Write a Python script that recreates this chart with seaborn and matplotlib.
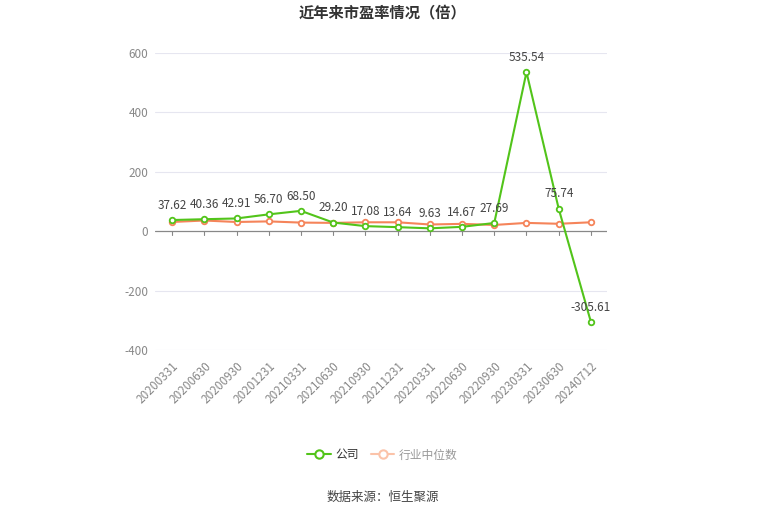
import matplotlib
matplotlib.use("Agg")
import matplotlib.pyplot as plt
import seaborn as sns
import pandas as pd
from matplotlib.lines import Line2D

dates = ["20200331", "20200630", "20200930", "20201231", "20210331", "20210630",
         "20210930", "20211231", "20220331", "20220630", "20220930", "20230331",
         "20230630", "20240712"]
company = [37.62, 40.36, 42.91, 56.70, 68.50, 29.20, 17.08, 13.64, 9.63, 14.67,
           27.69, 535.54, 75.74, -305.61]
industry = [31, 36, 31, 33, 29, 28, 30, 30, 22.6, 24.7, 21, 28, 25, 30]

green = "#52c41a"
orange = "#f5845a"

sns.set_theme(style="white")
plt.rcParams["font.family"] = ["Noto Sans CJK SC", "DejaVu Sans"]

df = pd.DataFrame({"x": range(len(dates)), "company": company, "industry": industry})

fig = plt.figure(figsize=(7.65, 5.17), dpi=100)
ax = fig.add_axes([0.2026, 0.323, 0.5909, 0.5745])

sns.lineplot(data=df, x="x", y="company", ax=ax, color=green, lw=1.5,
             marker="o", markersize=4, markerfacecolor="white",
             markeredgecolor=green, markeredgewidth=1.3, zorder=3)
sns.lineplot(data=df, x="x", y="industry", ax=ax, color=orange, lw=1.5,
             marker="o", markersize=4, markerfacecolor="white",
             markeredgecolor=orange, markeredgewidth=1.3, zorder=2)

for i, v in enumerate(company):
    ax.annotate(f"{v:.2f}", (i, v), textcoords="offset points", xytext=(0, 6),
                ha="center", va="bottom", fontsize=8.5, color="#444444", zorder=5)

ax.set_ylim(-400, 600)
ax.set_xlim(-0.53, len(dates) - 0.5)
ax.set_yticks([-400, -200, 0, 200, 400, 600])
ax.set_yticklabels(["-400", "-200", "0", "200", "400", "600"], color="#888888", fontsize=8.5)
ax.set_xticks(range(len(dates)))
ax.set_xticklabels(dates, rotation=45, ha="right", rotation_mode="anchor",
                   color="#888888", fontsize=8.5)
ax.tick_params(axis="y", length=0, pad=5)
ax.tick_params(axis="x", length=4, color="#888888", direction="out", pad=3)
for y in [-400, -200, 200, 400, 600]:
    ax.axhline(y, color="#e6e6f0", lw=0.8, zorder=0)
ax.axhline(0, color="#888888", lw=0.9, zorder=1)
for s in ax.spines.values():
    s.set_visible(False)
ax.set_xlabel("")
ax.set_ylabel("")

# tick marks sit on the zero line
ax.xaxis.set_ticks_position("bottom")
for t in ax.xaxis.get_major_ticks():
    t.tick1line.set_visible(False)
for i in range(len(dates)):
    ax.plot([i, i], [0, -14], color="#888888", lw=0.8, zorder=1)

fig.text(0.5, 0.975, "近年来市盈率情况（倍）", ha="center", va="center",
         fontsize=11, fontweight="bold", color="#333333")

handles = [
    Line2D([], [], color=green, lw=1.5, marker="o", markersize=6,
           markerfacecolor="white", markeredgecolor=green, markeredgewidth=1.5),
    Line2D([], [], color="#fbc3a9", lw=1.5, marker="o", markersize=6,
           markerfacecolor="white", markeredgecolor="#fbc3a9", markeredgewidth=1.5),
]
leg = fig.legend(handles, ["公司", "行业中位数"], loc="center", bbox_to_anchor=(0.5, 0.12),
                 ncol=2, frameon=False, fontsize=8.5, handlelength=2.0,
                 handletextpad=0.4, columnspacing=1.0)
leg.get_texts()[0].set_color("#333333")
leg.get_texts()[1].set_color("#999999")

fig.text(0.5, 0.037, "数据来源：恒生聚源", ha="center", va="center",
         fontsize=9, color="#444444")

fig.savefig("out.png", dpi=100)
